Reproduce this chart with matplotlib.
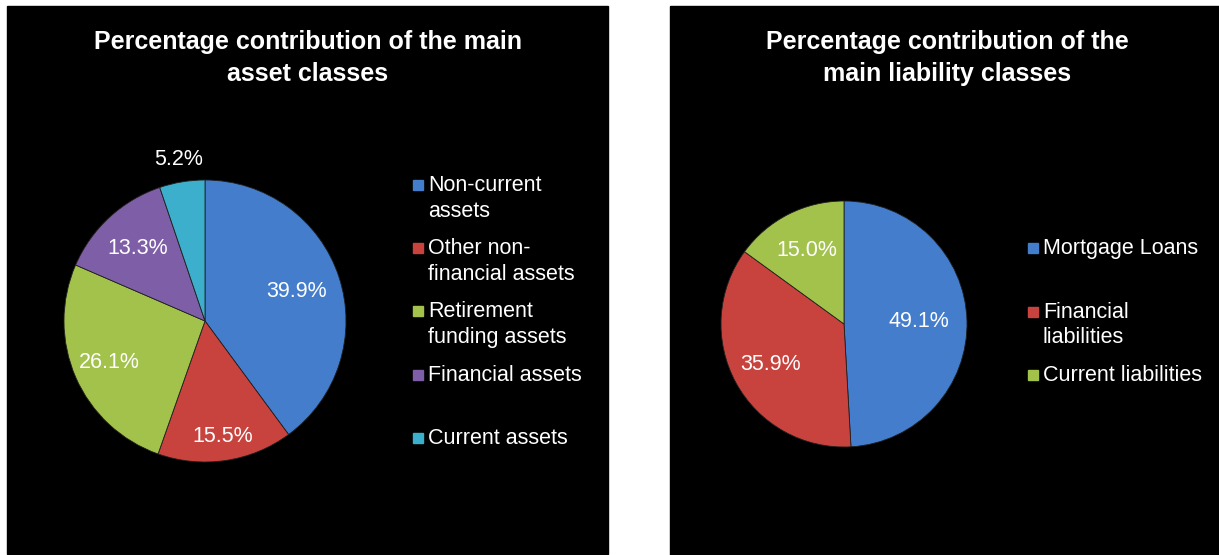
import numpy as np
import matplotlib.pyplot as plt
from matplotlib.patches import Rectangle

plt.rcParams['font.family'] = ['Liberation Sans', 'DejaVu Sans']

# assets
asset_labels = ['Non-current\nassets', 'Other non-\nfinancial assets', 'Retirement\nfunding assets',
                'Financial assets', 'Current assets']
asset_values = [39.9, 15.5, 26.1, 13.3, 5.2]
asset_colors = ['#437dcb', '#c9433e', '#a3c24c', '#7e5ea6', '#3cafcc']
asset_label_dist = [0.68, 0.83, 0.74, 0.70, 1.16]

# liabilities
liab_labels = ['Mortgage Loans', 'Financial\nliabilities', 'Current liabilities']
liab_values = [49.1, 35.9, 15.0]
liab_colors = ['#437dcb', '#c9433e', '#a3c24c']
liab_label_dist = [0.61, 0.68, 0.67]

W, H = 1219, 555
fig = plt.figure(figsize=(W / 100, H / 100), dpi=100)
fig.patch.set_facecolor('white')

# full-figure overlay in pixel units for panels and legends
bg = fig.add_axes([0, 0, 1, 1])
bg.set_xlim(0, W)
bg.set_ylim(H, 0)
bg.axis('off')
bg.add_patch(Rectangle((7, 6), 601, 548, color='black'))
bg.add_patch(Rectangle((670, 6), 549, 549, color='black'))


def pie_axes(cx, cy, r):
    return fig.add_axes([(cx - r) / W, (H - cy - r) / H, 2 * r / W, 2 * r / H])


def draw_pie(ax, values, colors, dists):
    wedges, _ = ax.pie(values, colors=colors, startangle=90, counterclock=False,
                       radius=1, wedgeprops=dict(edgecolor='#202020', linewidth=0.6))
    for w, v, d in zip(wedges, values, dists):
        ang = np.deg2rad((w.theta1 + w.theta2) / 2)
        ax.text(d * np.cos(ang), d * np.sin(ang), f'{v:.1f}%', color='white',
                fontsize=15.5, ha='center', va='center')
    ax.set_xlim(-1, 1)
    ax.set_ylim(-1, 1)
    ax.set_aspect('equal')
    ax.axis('off')


def draw_legend(x, y0, step, labels, colors):
    for i, (lab, col) in enumerate(zip(labels, colors)):
        y = y0 + i * step
        bg.add_patch(Rectangle((x, y - 5), 10, 10, color=col))
        bg.text(x + 15, y - 10, lab, color='white', fontsize=15.5, ha='left', va='top',
                linespacing=1.3)


ax1 = pie_axes(205, 321, 141)
draw_pie(ax1, asset_values, asset_colors, asset_label_dist)
ax2 = pie_axes(844, 324, 123)
draw_pie(ax2, liab_values, liab_colors, liab_label_dist)

bg.text(308, 58, 'Percentage contribution of the main\nasset classes', color='white',
        fontsize=18, fontweight='bold', ha='center', va='center', linespacing=1.4)
bg.text(947, 58, 'Percentage contribution of the\nmain liability classes', color='white',
        fontsize=18, fontweight='bold', ha='center', va='center', linespacing=1.4)

draw_legend(413, 185, 63.2, asset_labels, asset_colors)
draw_legend(1028, 248, 63.5, liab_labels, liab_colors)

fig.savefig('out.png', dpi=100, facecolor=fig.get_facecolor())
